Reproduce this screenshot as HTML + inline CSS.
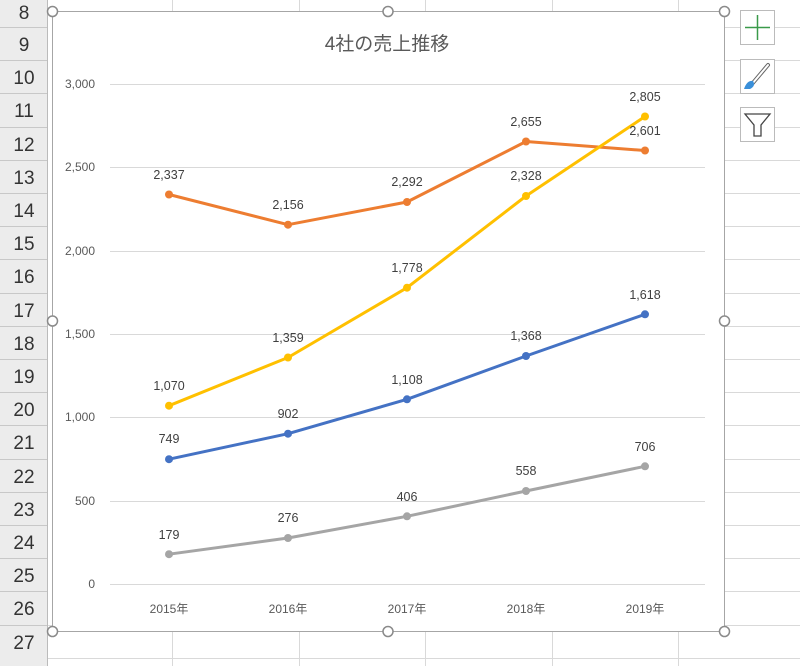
<!DOCTYPE html>
<html><head><meta charset="utf-8"><style>
body{margin:0;background:#fff;}
svg{display:block;font-family:"Liberation Sans","Noto Sans CJK JP",sans-serif;}
</style></head><body>
<svg width="800" height="666" viewBox="0 0 800 666" xmlns="http://www.w3.org/2000/svg">
<rect width="800" height="666" fill="#fff"/>
<!-- spreadsheet grid -->
<g stroke="#d9d9d9" stroke-width="1">
<line x1="172.5" y1="0" x2="172.5" y2="666"/><line x1="299.5" y1="0" x2="299.5" y2="666"/>
<line x1="425.5" y1="0" x2="425.5" y2="666"/><line x1="552.5" y1="0" x2="552.5" y2="666"/>
<line x1="678.5" y1="0" x2="678.5" y2="666"/>
</g>
<g stroke="#d9d9d9">
<line x1="724" y1="27.5" x2="800" y2="27.5"/><line x1="724" y1="60.5" x2="800" y2="60.5"/><line x1="724" y1="93.5" x2="800" y2="93.5"/><line x1="724" y1="127.5" x2="800" y2="127.5"/><line x1="724" y1="160.5" x2="800" y2="160.5"/><line x1="724" y1="193.5" x2="800" y2="193.5"/><line x1="724" y1="226.5" x2="800" y2="226.5"/><line x1="724" y1="259.5" x2="800" y2="259.5"/><line x1="724" y1="293.5" x2="800" y2="293.5"/><line x1="724" y1="326.5" x2="800" y2="326.5"/><line x1="724" y1="359.5" x2="800" y2="359.5"/><line x1="724" y1="392.5" x2="800" y2="392.5"/><line x1="724" y1="425.5" x2="800" y2="425.5"/><line x1="724" y1="459.5" x2="800" y2="459.5"/><line x1="724" y1="492.5" x2="800" y2="492.5"/><line x1="724" y1="525.5" x2="800" y2="525.5"/><line x1="724" y1="558.5" x2="800" y2="558.5"/><line x1="724" y1="591.5" x2="800" y2="591.5"/><line x1="0" y1="625.5" x2="800" y2="625.5"/><line x1="0" y1="658.5" x2="800" y2="658.5"/>
</g>
<!-- row headers -->
<rect x="0" y="0" width="47" height="666" fill="#ececec"/>
<line x1="47.5" y1="0" x2="47.5" y2="666" stroke="#bbb"/>
<g stroke="#c8c8c8">
<line x1="0" y1="27.5" x2="47" y2="27.5"/><line x1="0" y1="60.5" x2="47" y2="60.5"/><line x1="0" y1="93.5" x2="47" y2="93.5"/><line x1="0" y1="127.5" x2="47" y2="127.5"/><line x1="0" y1="160.5" x2="47" y2="160.5"/><line x1="0" y1="193.5" x2="47" y2="193.5"/><line x1="0" y1="226.5" x2="47" y2="226.5"/><line x1="0" y1="259.5" x2="47" y2="259.5"/><line x1="0" y1="293.5" x2="47" y2="293.5"/><line x1="0" y1="326.5" x2="47" y2="326.5"/><line x1="0" y1="359.5" x2="47" y2="359.5"/><line x1="0" y1="392.5" x2="47" y2="392.5"/><line x1="0" y1="425.5" x2="47" y2="425.5"/><line x1="0" y1="459.5" x2="47" y2="459.5"/><line x1="0" y1="492.5" x2="47" y2="492.5"/><line x1="0" y1="525.5" x2="47" y2="525.5"/><line x1="0" y1="558.5" x2="47" y2="558.5"/><line x1="0" y1="591.5" x2="47" y2="591.5"/><line x1="0" y1="625.5" x2="47" y2="625.5"/>
</g>
<g font-size="19" fill="#333" text-anchor="middle">
<text x="24" y="19">8</text><text x="24" y="51">9</text><text x="24" y="84">10</text><text x="24" y="117">11</text><text x="24" y="151">12</text><text x="24" y="184">13</text><text x="24" y="217">14</text><text x="24" y="250">15</text><text x="24" y="283">16</text><text x="24" y="317">17</text><text x="24" y="350">18</text><text x="24" y="383">19</text><text x="24" y="416">20</text><text x="24" y="449">21</text><text x="24" y="483">22</text><text x="24" y="516">23</text><text x="24" y="549">24</text><text x="24" y="582">25</text><text x="24" y="615">26</text><text x="24" y="649">27</text>
</g>
<!-- chart -->
<rect x="52.5" y="11.5" width="672" height="620" fill="#fff" stroke="#a6a6a6"/>
<text x="387" y="50" font-size="19" fill="#595959" text-anchor="middle">4社の売上推移</text>
<g stroke="#d9d9d9">
<line x1="110" y1="84.5" x2="705" y2="84.5"/><line x1="110" y1="167.5" x2="705" y2="167.5"/><line x1="110" y1="251.5" x2="705" y2="251.5"/><line x1="110" y1="334.5" x2="705" y2="334.5"/><line x1="110" y1="417.5" x2="705" y2="417.5"/><line x1="110" y1="501.5" x2="705" y2="501.5"/><line x1="110" y1="584.5" x2="705" y2="584.5"/>
</g>
<g font-size="12" fill="#595959" text-anchor="end">
<text x="95" y="88">3,000</text><text x="95" y="171">2,500</text><text x="95" y="255">2,000</text><text x="95" y="338">1,500</text><text x="95" y="421">1,000</text><text x="95" y="505">500</text><text x="95" y="588">0</text>
</g>
<g font-size="12" fill="#595959" text-anchor="middle">
<text x="169" y="613">2015年</text><text x="288" y="613">2016年</text><text x="407" y="613">2017年</text><text x="526" y="613">2018年</text><text x="645" y="613">2019年</text>
</g>
<g fill="none" stroke-width="3" stroke-linejoin="round">
<polyline stroke="#ED7D31" points="169,194.5 288,224.7 407,202 526,141.5 645,150.5"/>
<polyline stroke="#FFC000" points="169,405.7 288,357.5 407,287.7 526,196 645,116.5"/>
<polyline stroke="#4472C4" points="169,459.2 288,433.7 407,399.3 526,356 645,314.3"/>
<polyline stroke="#A5A5A5" points="169,554.2 288,538 407,516.3 526,491 645,466.3"/>
</g>
<g fill="#ED7D31"><circle cx="169" cy="194.5" r="4"/><circle cx="288" cy="224.7" r="4"/><circle cx="407" cy="202" r="4"/><circle cx="526" cy="141.5" r="4"/><circle cx="645" cy="150.5" r="4"/></g>
<g fill="#FFC000"><circle cx="169" cy="405.7" r="4"/><circle cx="288" cy="357.5" r="4"/><circle cx="407" cy="287.7" r="4"/><circle cx="526" cy="196" r="4"/><circle cx="645" cy="116.5" r="4"/></g>
<g fill="#4472C4"><circle cx="169" cy="459.2" r="4"/><circle cx="288" cy="433.7" r="4"/><circle cx="407" cy="399.3" r="4"/><circle cx="526" cy="356" r="4"/><circle cx="645" cy="314.3" r="4"/></g>
<g fill="#A5A5A5"><circle cx="169" cy="554.2" r="4"/><circle cx="288" cy="538" r="4"/><circle cx="407" cy="516.3" r="4"/><circle cx="526" cy="491" r="4"/><circle cx="645" cy="466.3" r="4"/></g>
<g font-size="12.5" fill="#404040" text-anchor="middle">
<text x="169" y="179">2,337</text><text x="288" y="209">2,156</text><text x="407" y="186">2,292</text><text x="526" y="126">2,655</text><text x="645" y="135">2,601</text>
<text x="169" y="390">1,070</text><text x="288" y="342">1,359</text><text x="407" y="272">1,778</text><text x="526" y="180">2,328</text><text x="645" y="101">2,805</text>
<text x="169" y="443">749</text><text x="288" y="418">902</text><text x="407" y="384">1,108</text><text x="526" y="340">1,368</text><text x="645" y="299">1,618</text>
<text x="169" y="539">179</text><text x="288" y="522">276</text><text x="407" y="501">406</text><text x="526" y="475">558</text><text x="645" y="451">706</text>
</g>
<!-- handles -->
<g fill="#fff" stroke="#8a8a8a" stroke-width="1.5">
<circle cx="52.5" cy="11.5" r="5"/><circle cx="388" cy="11.5" r="5"/><circle cx="724.5" cy="11.5" r="5"/>
<circle cx="52.5" cy="321" r="5"/><circle cx="724.5" cy="321" r="5"/>
<circle cx="52.5" cy="631.5" r="5"/><circle cx="388" cy="631.5" r="5"/><circle cx="724.5" cy="631.5" r="5"/>
</g>
<!-- side buttons -->
<g fill="#fff" stroke="#bbb">
<rect x="740.5" y="10.5" width="34" height="34"/><rect x="740.5" y="59.5" width="34" height="34"/><rect x="740.5" y="107.5" width="34" height="34"/>
</g>
<g stroke="#3a9a4a" stroke-width="1.5"><line x1="757.5" y1="15" x2="757.5" y2="40"/><line x1="745" y1="27.5" x2="770" y2="27.5"/></g>
<line x1="768" y1="65" x2="752" y2="84" stroke="#666" stroke-width="4" stroke-linecap="round"/>
<line x1="768" y1="65" x2="752" y2="84" stroke="#fff" stroke-width="2" stroke-linecap="round"/>
<path d="M744,89 Q747,80 753,81 Q756,86 750,89 Z" fill="#3a8fd9"/>
<path d="M745,114 H770 L761,125 V136 H754 V125 Z" fill="#fff" stroke="#444" stroke-width="1.3"/>
</svg>
</body></html>
